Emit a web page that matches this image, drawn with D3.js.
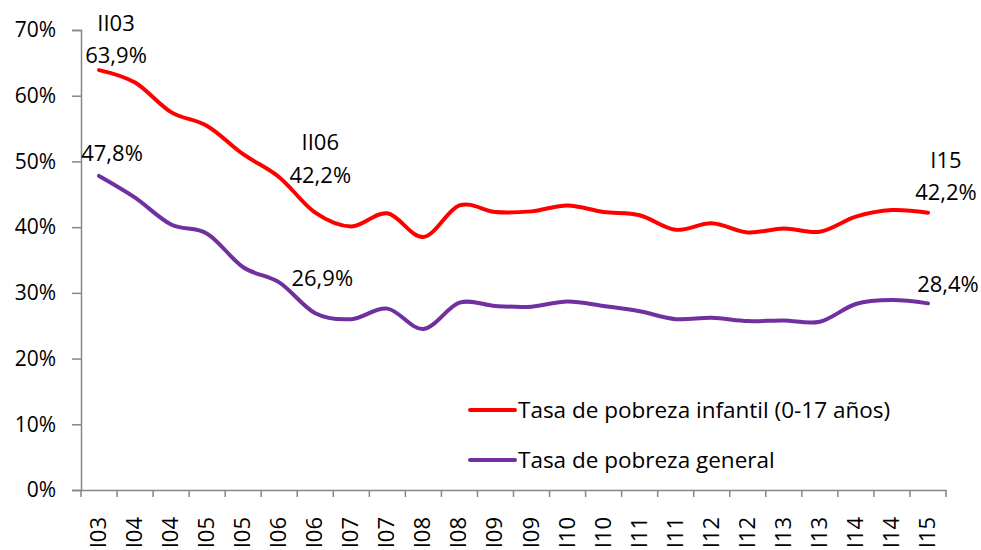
<!DOCTYPE html>
<html>
<head>
<meta charset="utf-8">
<script src="https://cdn.jsdelivr.net/npm/d3@7"></script>
<style>
  body { margin: 0; background: #fff; }
  text { font-family: "Open Sans", "Noto Sans", sans-serif; fill: #000; }
</style>
</head>
<body>
<div id="chart"></div>
<script>
// periods (semesters)
const periods = ["II03","I04","II04","I05","II05","I06","II06","I07","II07","I08","II08","I09",
                 "II09","I10","II10","I11","II11","I12","II12","I13","II13","I14","II14","I15"];

// child poverty rate (0-17)
const infantil = [63.9, 62.0, 57.5, 55.4, 51.1, 47.6, 42.2, 40.1, 42.1, 38.5, 43.3, 42.3,
                  42.4, 43.3, 42.3, 41.8, 39.6, 40.6, 39.2, 39.8, 39.3, 41.6, 42.6, 42.2];

// general poverty rate
const general = [47.8, 44.5, 40.4, 39.0, 33.9, 31.6, 26.9, 26.0, 27.6, 24.5, 28.5, 28.0,
                 27.9, 28.7, 28.0, 27.2, 26.0, 26.2, 25.7, 25.8, 25.6, 28.3, 28.9, 28.4];

const yTicks = [0, 10, 20, 30, 40, 50, 60, 70];

const seriesNames = ["Tasa de pobreza infantil (0-17 años)", "Tasa de pobreza general"];
const colors = ["#ff0000", "#7030a0"];

// point annotations
const notes = [
  {s: 0, i: 0, top: "II03", dx: 17, dyTop: -39, dyVal: -7},
  {s: 1, i: 0, top: null, dx: 13, dyVal: -15},
  {s: 0, i: 6, top: "II06", dx: 5, dyTop: -63, dyVal: -30},
  {s: 1, i: 6, top: null, dx: 7, dyVal: -27},
  {s: 0, i: 23, top: "I15", dx: 18, dyTop: -45, dyVal: -13},
  {s: 1, i: 23, top: null, dx: 20, dyVal: -11}
];

const W = 981, H = 550;
const margin = {top: 30, right: 35, bottom: 60, left: 81};
const width = W - margin.left - margin.right,
      height = H - margin.top - margin.bottom;

const svg = d3.select("#chart")
  .append("svg")
    .attr("width", W)
    .attr("height", H)
  .append("g")
    .attr("transform", `translate(${margin.left}, ${margin.top})`);

const x = d3.scaleBand()
  .domain(periods)
  .range([0, width]);

const y = d3.scaleLinear()
  .domain([0, 70])
  .range([height, 0]);

// Y axis
const yAxis = svg.append("g")
  .call(d3.axisLeft(y).tickValues(yTicks).tickSize(9).tickPadding(16)
    .tickFormat(d => d + "%"));
yAxis.selectAll("text").style("font-size", "21px");

// X axis with ticks at band edges (labels run off the bottom edge, as in the original)
const xAxis = svg.append("g")
  .attr("transform", `translate(0, ${height})`)
  .call(d3.axisBottom(x).tickSize(0).tickPadding(0));
xAxis.selectAll(".tick text")
  .style("font-size", "22px")
  .attr("text-anchor", "end")
  .attr("transform", "translate(7, 27) rotate(-90)")
  .attr("dy", 0)
  .attr("y", 0)
  .attr("x", 0);
const edges = periods.map(p => x(p)).concat([width]);
xAxis.selectAll(".edge")
  .data(edges)
  .join("line")
    .attr("class", "edge")
    .attr("x1", d => d).attr("x2", d => d)
    .attr("y1", 0).attr("y2", 7);

svg.selectAll(".domain, .tick line, .edge")
  .attr("stroke", "#868686")
  .attr("stroke-width", 1.5);

// lines
const cx = d => x(d) + x.bandwidth() / 2;
const line = d3.line()
  .x((d, i) => cx(periods[i]))
  .y(d => y(d))
  .curve(d3.curveCardinal.tension(0));

[infantil, general].forEach((vals, k) => {
  svg.append("path")
    .datum(vals)
    .attr("fill", "none")
    .attr("stroke", colors[k])
    .attr("stroke-width", 4)
    .attr("stroke-linecap", "round")
    .attr("d", line);
});

// annotations
const allSeries = [infantil, general];
const fmt = v => d3.format(".1f")(v).replace(".", ",") + "%";
notes.forEach(n => {
  const v = allSeries[n.s][n.i];
  const px = cx(periods[n.i]) + n.dx;
  const py = y(v);
  if (n.top) {
    svg.append("text")
      .attr("x", px).attr("y", py + n.dyTop)
      .attr("text-anchor", "middle")
      .style("font-size", "22px")
      .text(n.top);
  }
  svg.append("text")
    .attr("x", px).attr("y", py + n.dyVal)
    .attr("text-anchor", "middle")
    .style("font-size", "22px")
    .text(fmt(v));
});

// legend
const legend = svg.append("g")
  .attr("transform", `translate(${470 - margin.left}, ${410 - margin.top})`);
seriesNames.forEach((name, k) => {
  const g = legend.append("g").attr("transform", `translate(0, ${k * 50})`);
  g.append("line")
    .attr("x1", 0).attr("x2", 45)
    .attr("stroke", colors[k])
    .attr("stroke-width", 4)
    .attr("stroke-linecap", "round");
  g.append("text")
    .attr("x", 48).attr("y", 8)
    .style("font-size", "22.5px")
    .text(name);
});
</script>
</body>
</html>
